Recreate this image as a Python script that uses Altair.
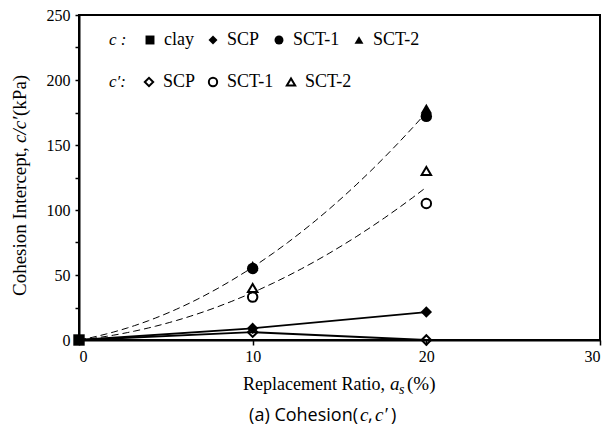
import altair as alt
import pandas as pd

# ---- data ----
ratio = [0, 10, 20]
clay_c = [0]
scp_c = [0, 9, 21.5]
sct1_c = [0, 55, 172]
sct2_c = [0, 57, 178]
scp_cp = [0, 6, 0]
sct1_cp = [0, 33, 105]
sct2_cp = [0, 40, 130]

filled_names = ["clay", "SCP", "SCT-1", "SCT-2"]
filled_shapes = ["square", "diamond", "circle", "triangle-up"]
open_names = ["SCP", "SCT-1", "SCT-2"]
open_shapes = ["diamond", "circle", "triangle-up"]

x_ticks = [0, 10, 20, 30]
y_ticks = [0, 25, 50, 75, 100, 125, 150, 175, 200, 225, 250]

rows = []
for name, vals in [("SCP", scp_c), ("SCT-1", sct1_c), ("SCT-2", sct2_c)]:
    for r, v in zip(ratio, vals):
        rows.append({"series": name, "kind": "c", "ratio": r, "value": v})
for name, vals in [("SCP", scp_cp), ("SCT-1", sct1_cp), ("SCT-2", sct2_cp)]:
    for r, v in zip(ratio, vals):
        rows.append({"series": name, "kind": "cp", "ratio": r, "value": v})
df = pd.DataFrame(rows)
clay_df = pd.DataFrame({"series": ["clay"], "kind": ["c"], "ratio": [0], "value": clay_c})

SERIF = "Liberation Serif"
SANS = "Open Sans"

xenc = alt.X("ratio:Q", scale=alt.Scale(domain=[0, 30], nice=False),
             axis=alt.Axis(values=x_ticks, title=None, tickSize=5, labelPadding=3,
                           labelAngle=0, labelFont=SERIF, labelFontSize=16,
                           labelColor="black"))
yenc = alt.Y("value:Q", scale=alt.Scale(domain=[0, 250], nice=False),
             axis=alt.Axis(values=y_ticks, title=None, tickSize=4, labelPadding=5,
                           labelFont=SERIF, labelFontSize=16, labelColor="black",
                           labelExpr="datum.value % 50 == 0 ? datum.label : ''"))

base = alt.Chart(df)

dashed = base.transform_filter(
    alt.FieldOneOfPredicate(field="series", oneOf=["SCT-1", "SCT-2"])
).transform_regression(
    "ratio", "value", method="poly", order=2, groupby=["kind"]
).mark_line(color="black", strokeWidth=1, strokeDash=[7, 4]).encode(
    x=xenc, y=yenc, detail="kind:N"
)

scp_lines = base.transform_filter(
    alt.datum.series == "SCP"
).mark_line(color="black", strokeWidth=1.8).encode(
    x=xenc, y=yenc, detail="kind:N"
)

open_pts = base.transform_filter(
    (alt.datum.kind == "cp") & (alt.datum.ratio > 0)
).mark_point(filled=False, color="black", strokeWidth=2, size=90, opacity=1).encode(
    x=xenc, y=yenc,
    shape=alt.Shape("series:N",
                    scale=alt.Scale(domain=open_names, range=open_shapes),
                    legend=alt.Legend(
                        title="c\u2032:", orient="none", legendX=30, legendY=58,
                        direction="horizontal", titleOrient="left",
                        titleFont=SERIF, titleFontStyle="italic", titleFontWeight="normal",
                        titleFontSize=17, titleColor="black", titlePadding=14,
                        labelFont=SERIF, labelFontSize=18, labelColor="black",
                        symbolSize=70, symbolStrokeColor="black",
                        symbolStrokeWidth=2, labelOffset=5, columnPadding=8,
                        padding=0)),
)

filled_df = pd.concat([clay_df, df[(df.kind == "c") & (df.ratio > 0)]], ignore_index=True)
filled_pts = alt.Chart(filled_df).mark_point(filled=True, color="black", size=130,
                                             opacity=1).encode(
    x=xenc, y=yenc,
    shape=alt.Shape("series:N",
                    scale=alt.Scale(domain=filled_names, range=filled_shapes),
                    legend=alt.Legend(
                        title="c :", orient="none", legendX=30, legendY=16,
                        direction="horizontal", titleOrient="left",
                        titleFont=SERIF, titleFontStyle="italic", titleFontWeight="normal",
                        titleFontSize=17, titleColor="black", titlePadding=14,
                        labelFont=SERIF, labelFontSize=18, labelColor="black",
                        symbolSize=80, symbolFillColor="black", symbolStrokeColor="black",
                        symbolStrokeWidth=1, labelOffset=5, columnPadding=10,
                        padding=0)),
)


def txt(s, x, y, font=SERIF, size=18, style="normal", align="left", angle=0, baseline="alphabetic"):
    kw = dict(font=font, fontSize=size, fontStyle=style, align=align, baseline=baseline,
              color="black")
    if angle:
        kw["angle"] = angle
    return alt.Chart(pd.DataFrame({"t": [s]})).mark_text(**kw).encode(
        text="t:N", x=alt.value(x), y=alt.value(y))


# x axis title (mixed fonts)
xt = [
    txt("Replacement Ratio,", 306, 375, size=18, align="right"),
    txt("a", 311, 375, size=19, style="italic"),
    txt("s", 320, 379, size=14, style="italic"),
    txt("(%)", 328, 375, size=19),
]
# y axis title (rotated)
yt = [
    txt("Cohesion Intercept, ", -53, 281, size=19, angle=270),
    txt("c/c\u2032", -53, 128, size=19, style="italic", angle=270),
    txt("(kPa)", -53, 101, size=19, angle=270),
]
# caption
cap = [
    txt("(a) Cohesion(", 279, 406, font=SANS, size=18, align="right"),
    txt("c", 281, 406, size=19, style="italic"),
    txt(",", 289, 406, font=SANS, size=18),
    txt("c\u2032", 296, 406, size=19, style="italic"),
    txt(")", 312, 406, font=SANS, size=18),
]

chart = alt.layer(dashed, scp_lines, open_pts, filled_pts, *xt, *yt, *cap).resolve_scale(
    shape="independent"
).resolve_legend(shape="independent").properties(
    width=521, height=325,
    autosize=alt.AutoSizeParams(type="none"),
    padding={"left": 71, "top": 7, "right": 3, "bottom": 85},
).configure_axis(
    grid=False, domainColor="black", domainWidth=2, tickColor="black", tickWidth=1.5,
    labelColor="black", labelFont=SERIF, labelFontSize=16,
).configure_view(stroke="black", strokeWidth=2)

chart.save("out.html", embed_options={"renderer": "svg", "actions": False})
